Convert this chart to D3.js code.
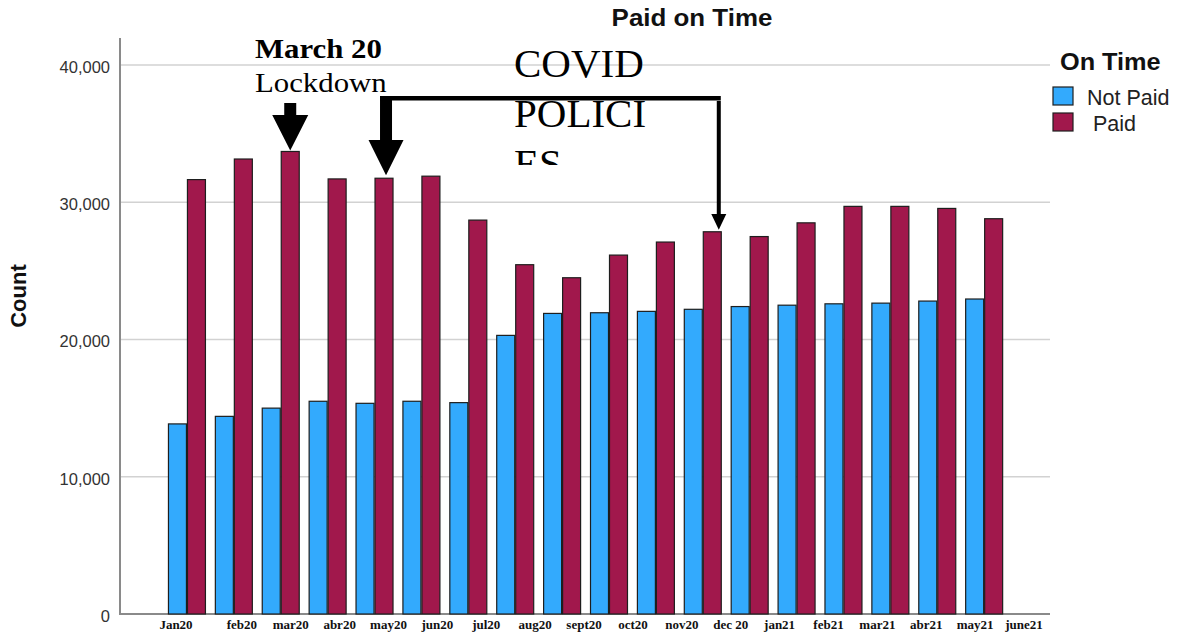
<!DOCTYPE html>
<html><head><meta charset="utf-8">
<script src="https://cdn.jsdelivr.net/npm/d3@7"></script>
<style>
html,body{margin:0;padding:0;background:#fff;}
svg{display:block;}
</style></head>
<body>
<script>
// ---- data ----
const months = ["Jan20","feb20","mar20","abr20","may20","jun20","jul20","aug20","sept20","oct20","nov20","dec 20","jan21","feb21","mar21","abr21","may21","june21"];
const notPaid = [13850,14400,15000,15500,15350,15500,15400,20300,21900,21950,22050,22200,22400,22500,22600,22650,22800,22950];
const paid    = [31650,33150,33700,31700,31750,31900,28700,25450,24500,26150,27100,27850,27500,28500,29700,29700,29550,28800];
const series  = ["Not Paid","Paid"];
const yTicks  = [0,10000,20000,30000,40000];
const colors  = ["#33aafd","#a1184c"];

const W = 1187, H = 635;
const L = 120, R = 1050, T = 38, B = 614;

const svg = d3.select("body").append("svg").attr("width",W).attr("height",H);

const y = d3.scaleLinear().domain([0,40000]).range([B,65]);
const x0 = d3.scaleBand().domain(months).range([L+43.5, R-42.4]).paddingInner(0.19).paddingOuter(0.095);
const x1 = d3.scaleBand().domain(series).range([0, x0.bandwidth()]);
const xl = d3.scalePoint().domain(months).range([193, 1024]);

// gridlines
svg.append("g").selectAll("line").data(yTicks.filter(d=>d>0)).join("line")
  .attr("x1",L).attr("x2",R).attr("y1",d=>y(d)).attr("y2",d=>y(d))
  .attr("stroke","#d2d2d2").attr("stroke-width",1.5);

// y axis labels via d3 axis
const yAxis = d3.axisLeft(y).tickValues(yTicks).tickFormat(d3.format(",")).tickSize(0).tickPadding(10);
const ya = svg.append("g").attr("transform",`translate(${L},0)`).call(yAxis);
ya.select(".domain").remove();
ya.selectAll("text").attr("font-family","'Liberation Sans', Arial, sans-serif").attr("font-size",16.5).attr("fill","#333").attr("dy","0.45em");

// axis lines
svg.append("line").attr("x1",L).attr("x2",L).attr("y1",T).attr("y2",B+1).attr("stroke","#8a8a8a").attr("stroke-width",2);
svg.append("line").attr("x1",L-1).attr("x2",R).attr("y1",B).attr("y2",B).attr("stroke","#8a8a8a").attr("stroke-width",2);

// bars
const rows = months.map((m,i)=>({m, vals:[notPaid[i], paid[i]]}));
const g = svg.append("g").selectAll("g").data(rows).join("g").attr("transform",d=>`translate(${x0(d.m)},0)`);
g.selectAll("rect").data(d=>d.vals.map((v,j)=>({s:series[j],v,j}))).join("rect")
  .attr("x",d=>x1(d.s)+0.5).attr("width",x1.bandwidth()-1)
  .attr("y",d=>y(d.v)).attr("height",d=>B-y(d.v))
  .attr("fill",d=>colors[d.j]).attr("stroke","#1e1e1e").attr("stroke-width",1.2);

// x labels
svg.append("g").selectAll("text").data(months).join("text")
  .attr("x",(d,i)=> xl(d) - (i===0?17:0)).attr("y",629)
  .attr("text-anchor","middle").attr("font-family","'Liberation Serif','Times New Roman',serif")
  .attr("font-weight","bold").attr("font-size",13).attr("fill","#111").text(d=>d);

// title
svg.append("text").attr("x",692).attr("y",26).attr("text-anchor","middle")
  .attr("font-family","'Liberation Sans', Arial, sans-serif").attr("font-weight","bold").attr("font-size",24)
  .attr("fill","#111").attr("transform","translate(692,0) scale(1.08,1) translate(-692,0)").text("Paid on Time");

// y title
svg.append("text").attr("transform","translate(26,296) rotate(-90)").attr("text-anchor","middle")
  .attr("font-family","'Liberation Sans', Arial, sans-serif").attr("font-weight","bold").attr("font-size",22)
  .attr("fill","#111").text("Count");

// legend
const lg = svg.append("g");
lg.append("text").attr("x",1060).attr("y",70).attr("font-family","'Liberation Sans', Arial, sans-serif")
  .attr("font-weight","bold").attr("font-size",23).attr("fill","#111")
  .attr("transform","translate(1060,0) scale(1.1,1) translate(-1060,0)").text("On Time");
const legendLabels = ["Not Paid"," Paid"];
series.forEach((s,i)=>{
  lg.append("rect").attr("x",1053).attr("y",87+i*26).attr("width",20).attr("height",18)
    .attr("fill",colors[i]).attr("stroke","#1e1e1e").attr("stroke-width",1.2);
  lg.append("text").attr("x",1087).attr("y",105+i*26).attr("font-family","'Liberation Sans', Arial, sans-serif")
    .attr("font-size",21.5).attr("fill","#222").attr("xml:space","preserve").style("white-space","pre").text(legendLabels[i]);
});

// ---- annotations ----
const serif = "'Liberation Serif','Times New Roman',serif";
svg.append("text").attr("x",255).attr("y",58).attr("font-family",serif).attr("font-weight","bold")
  .attr("font-size",28).attr("fill","#000").attr("transform","translate(255,0) scale(1.1,1) translate(-255,0)").text("March 20");
svg.append("text").attr("x",255).attr("y",92).attr("font-family",serif)
  .attr("font-size",28).attr("fill","#000").attr("transform","translate(255,0) scale(1.1,1) translate(-255,0)").text("Lockdown");

// COVID POLICIES text box (clipped)
svg.append("clipPath").attr("id","cbox").append("rect").attr("x",505).attr("y",40).attr("width",160).attr("height",125);
const ct = svg.append("text").attr("clip-path","url(#cbox)").attr("font-family",serif).attr("font-size",41).attr("fill","#000");
["COVID","POLICI","ES"].forEach((t,i)=> ct.append("tspan").attr("x",514).attr("y",77+i*50).text(t));

const redX = i => x0(months[i]) + x1("Paid") + x1.bandwidth()/2;
function bigArrow(cx, top, baseY, tipY, shaftW, headW){
  svg.append("path").attr("fill","#000").attr("d",
    `M${cx-shaftW/2},${top} L${cx+shaftW/2},${top} L${cx+shaftW/2},${baseY} L${cx+headW/2},${baseY} L${cx},${tipY} L${cx-headW/2},${baseY} L${cx-shaftW/2},${baseY} Z`);
}
// March arrow
const mx = redX(2);
bigArrow(mx, 103, 115, y(paid[2]) - 1, 12, 36);
// May arrow
const ax = redX(4) + 2;
bigArrow(ax, 96, 140, y(paid[4]) - 3, 12, 35);
// horizontal connector
const dx = redX(11) + 6.5;
svg.append("rect").attr("x",ax-6).attr("y",96).attr("width",dx+2-(ax-6)).attr("height",4.5).attr("fill","#000");
// dec arrow
bigArrow(dx, 101, 214, y(paid[11]) - 2, 4, 15);
</script>
</body></html>
